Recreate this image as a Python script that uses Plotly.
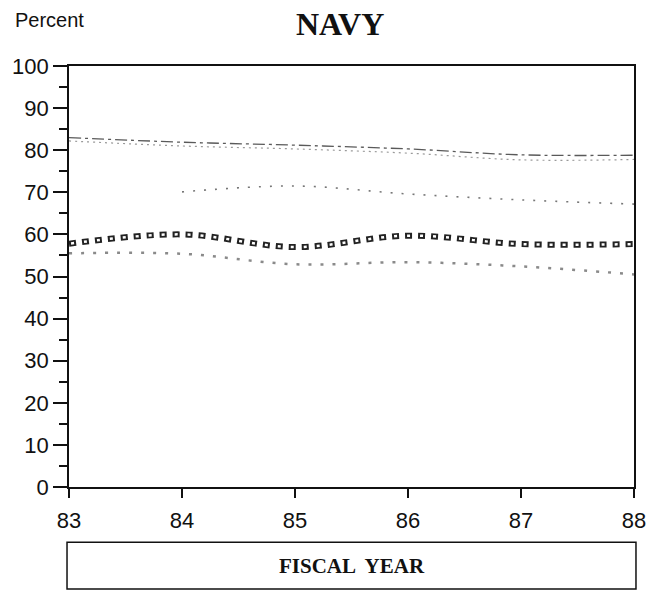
import plotly.graph_objects as go

years = [83, 84, 85, 86, 87, 88]
top_upper = [83.0, 81.9, 81.2, 80.3, 78.9, 78.8]
top_lower = [82.2, 81.0, 80.3, 79.3, 77.7, 77.8]
middle = [None, 70.1, 71.5, 69.6, 68.2, 67.2]
squares = [57.8, 60.0, 57.0, 59.7, 57.7, 57.7]
dotted_low = [55.5, 55.4, 52.9, 53.4, 52.4, 50.5]
x_ticks = [83, 84, 85, 86, 87, 88]
y_ticks = list(range(0, 101, 10))

fig = go.Figure()

def add(y, color, width, dash):
    fig.add_trace(go.Scatter(
        x=years, y=y, mode="lines", connectgaps=False,
        line=dict(color=color, width=width, dash=dash, shape="spline", smoothing=1),
        hoverinfo="skip", showlegend=False))

add(top_upper, "#5a5a5a", 1.3, "12px,4px,3px,4px")
add(top_lower, "#9a9a9a", 1.2, "2px,4px")
add(middle, "#777777", 1.6, "2px,9px")
add(dotted_low, "#8a8a8a", 2.5, "3px,9px")
# hollow squares: black dashes with white centers
add(squares, "#222222", 6, "7px,6px")
add(squares, "#ffffff", 2.5, "0px,2px,3px,8px")

fig.update_layout(
    width=658, height=592,
    margin=dict(l=69, r=22, t=66, b=105),
    paper_bgcolor="white", plot_bgcolor="white",
    font=dict(family="Liberation Sans, Arial", color="#111111", size=22),
    xaxis=dict(
        range=[83, 88], tickvals=x_ticks, ticktext=[str(v) for v in x_ticks],
        showgrid=False, zeroline=False, showline=True, linecolor="#111111",
        linewidth=1.6, mirror=True, ticks="outside", ticklen=9, tickwidth=1.5,
        tickcolor="#111111", ticklabelstandoff=4,
    ),
    yaxis=dict(
        range=[0, 100], tickvals=y_ticks, showgrid=False, zeroline=False,
        showline=True, linecolor="#111111", linewidth=1.6, mirror=True,
        ticks="outside", ticklen=14, tickwidth=1.5, tickcolor="#111111",
        minor=dict(dtick=5, ticklen=8, ticks="outside", tickcolor="#111111", tickwidth=1.5, showgrid=False),
    ),
)

fig.add_annotation(text="<b>NAVY</b>", xref="paper", yref="paper", x=0.48, y=1,
                   yshift=42, showarrow=False,
                   font=dict(family="Liberation Serif, Times New Roman", size=32, color="#111111"),
                   xanchor="center", yanchor="middle")
fig.add_annotation(text="Percent", xref="paper", x=-0.1, y=1, yref="paper",
                   yshift=46, showarrow=False, xanchor="left", yanchor="middle",
                   font=dict(family="Liberation Sans, Arial", size=20, color="#111111"))

fig.add_shape(type="rect", xref="paper", yref="paper",
              x0=-0.0035, x1=1.0035, y0=-0.242, y1=-0.131,
              line=dict(color="#111111", width=1.5), fillcolor="rgba(0,0,0,0)")
fig.add_annotation(text="<b>FISCAL  YEAR</b>", xref="paper", yref="paper",
                   x=0.5, y=-0.187, showarrow=False, xanchor="center", yanchor="middle",
                   font=dict(family="Liberation Serif, Times New Roman", size=21, color="#111111"))

fig.write_html(
    "out.html",
    config={"displayModeBar": False},
    post_script="document.body.style.margin='0';document.body.style.overflow='hidden';",
)
